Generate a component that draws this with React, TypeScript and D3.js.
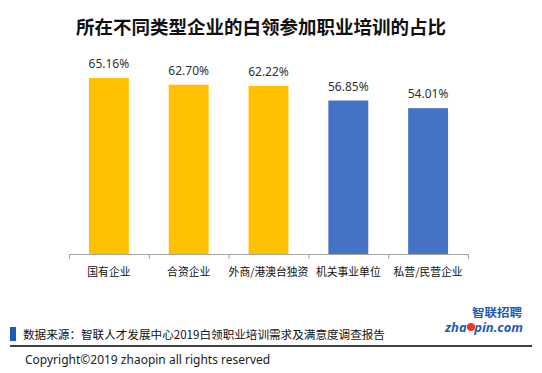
import { scaleBand, scaleLinear } from 'd3';

const categories = ['国有企业', '合资企业', '外商/港澳台独资', '机关事业单位', '私营/民营企业'];
const values = [65.16, 62.7, 62.22, 56.85, 54.01];
const barColors = ['#FFC000', '#FFC000', '#FFC000', '#4472C4', '#4472C4'];

const title = '所在不同类型企业的白领参加职业培训的占比';
const source = '数据来源：智联人才发展中心2019白领职业培训需求及满意度调查报告';
const copyright = 'Copyright©2019 zhaopin all rights reserved';

const cjk = '"Noto Sans CJK SC", "Noto Sans", sans-serif';
const latin = '"Noto Sans", "Noto Sans CJK SC", sans-serif';

export default function App() {
  const width = 542;
  const height = 373;
  const axisY = 254;

  const x = scaleBand<string>()
    .domain(categories)
    .range([69, 468])
    .paddingInner(0.5)
    .paddingOuter(0.25);

  const y = scaleLinear().domain([0, 70]).range([axisY, 65]);

  const step = x.step();
  const tickXs = categories.map((_, i) => 69 + i * step).concat([468]);

  return (
    <svg
      width={width}
      height={height}
      style={{ position: 'absolute', left: 0, top: 0, background: '#fff' }}
    >
      <rect width={width} height={height} fill="#fff" />
      <text
        x={261}
        y={34}
        textAnchor="middle"
        fontFamily={cjk}
        fontSize={18.5}
        fontWeight="bold"
        fill="#111"
      >
        {title}
      </text>

      {categories.map((c, i) => (
        <g key={c}>
          <rect
            x={x(c)}
            y={y(values[i])}
            width={x.bandwidth()}
            height={axisY - y(values[i])}
            fill={barColors[i]}
          />
          <text
            x={(x(c) || 0) + x.bandwidth() / 2}
            y={y(values[i]) - 10}
            textAnchor="middle"
            fontFamily={latin}
            fontSize={12}
            fill="#333"
          >
            {values[i].toFixed(2)}%
          </text>
          <text
            x={(x(c) || 0) + x.bandwidth() / 2}
            y={276}
            textAnchor="middle"
            fontFamily={cjk}
            fontSize={10.8}
            fill="#111"
          >
            {c}
          </text>
        </g>
      ))}

      <line x1={69} x2={468} y1={axisY + 0.5} y2={axisY + 0.5} stroke="#A6A6A6" strokeWidth={1} />
      {tickXs.map((tx, i) => (
        <line
          key={i}
          x1={tx + 0.5}
          x2={tx + 0.5}
          y1={axisY}
          y2={axisY + 5}
          stroke="#A6A6A6"
          strokeWidth={1}
        />
      ))}

      {/* footer */}
      <rect x={10} y={327} width={6} height={14} fill="#1F5CB4" />
      <text x={23} y={338.5} fontFamily={cjk} fontSize={11.6} fill="#111">
        {source}
      </text>
      <line x1={10} x2={532} y1={346} y2={346} stroke="#000" strokeWidth={1.5} />
      <text x={25} y={364} fontFamily={latin} fontSize={12} fill="#222">
        {copyright}
      </text>

      {/* logo */}
      <text
        x={472}
        y={317}
        fontFamily={cjk}
        fontSize={11.5}
        fontWeight="bold"
        fill="#1F5CB4"
        textLength={50}
        lengthAdjust="spacingAndGlyphs"
      >
        智联招聘
      </text>
      <text
        x={445}
        y={331.5}
        fontFamily={latin}
        fontSize={12}
        fontWeight="bold"
        fontStyle="italic"
        fill="#1F5CB4"
        textLength={78}
        lengthAdjust="spacingAndGlyphs"
      >
        zha<tspan fill="#fff">o</tspan>pin.com
      </text>
      <circle cx={471} cy={327} r={4} fill="#E8381E" />
    </svg>
  );
}
